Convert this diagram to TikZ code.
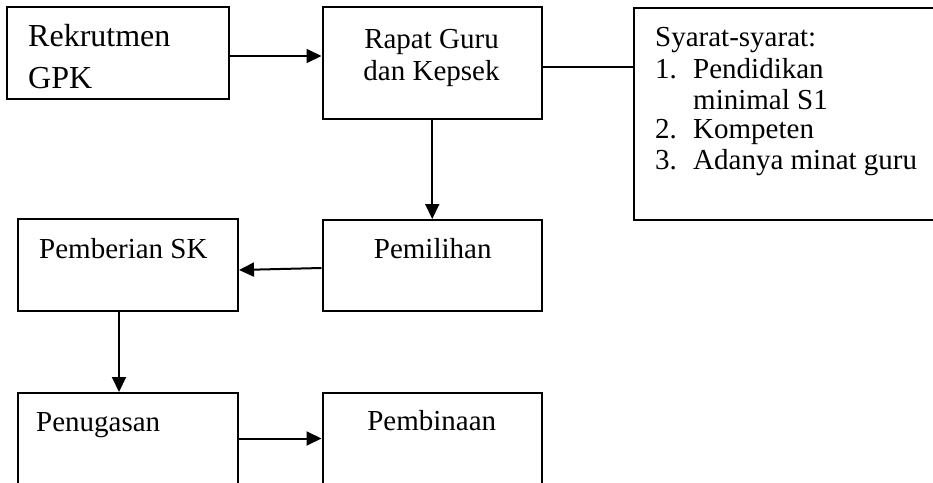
\documentclass[tikz,border=0pt]{standalone}
\usepackage{fontspec}
\setmainfont{Liberation Serif}
\usetikzlibrary{arrows.meta}
\begin{document}
\begin{tikzpicture}[x=1pt,y=-1pt,
  box/.style={draw=black,line width=2pt,rectangle,inner sep=0pt},
  txt/.style={inner sep=0pt,font=\fontsize{29}{31}\selectfont},
  bigtxt/.style={inner sep=0pt,font=\fontsize{32}{38}\selectfont},
  arr/.style={line width=2pt,-{Triangle[length=15pt,width=14pt]}},
  ln/.style={line width=2pt}]
\useasboundingbox (0,0) rectangle (933,482);
\clip (0,0) rectangle (933,482);
% boxes
\node[box,minimum width=222pt,minimum height=92pt] (b1) at (118,53) {};
\node[box,minimum width=219.5pt,minimum height=112pt] (b2) at (432.25,63) {};
\node[box,minimum width=326pt,minimum height=212pt] (b3) at (797,114) {};
\node[box,minimum width=219.5pt,minimum height=91pt] (b4) at (432.25,265.5) {};
\node[box,minimum width=220pt,minimum height=92pt] (b5) at (128,265) {};
\node[box,minimum width=220pt,minimum height=108pt] (b6) at (128,447) {};
\node[box,minimum width=219.5pt,minimum height=108pt] (b7) at (432.25,447) {};
% texts
\node[bigtxt,anchor=base west] (t1a) at (28,46.7) {Rekrutmen};
\node[bigtxt,anchor=base west] (t1b) at (28,88.3) {GPK};
\node[txt,anchor=base] (t2a) at (431.5,48.3) {Rapat Guru};
\node[txt,anchor=base] (t2b) at (431.5,80) {dan Kepsek};
\node[txt,anchor=base west] (t3a) at (655,46) {Syarat-syarat:};
\node[txt,anchor=base west] (t3b) at (655,78) {1.};
\node[txt,anchor=base west] (t3c) at (693,78) {Pendidikan};
\node[txt,anchor=base west] (t3d) at (693,109) {minimal S1};
\node[txt,anchor=base west] (t3e) at (655,138) {2.};
\node[txt,anchor=base west] (t3f) at (693,138) {Kompeten};
\node[txt,anchor=base west] (t3g) at (655,169) {3.};
\node[txt,anchor=base west] (t3h) at (693,169) {Adanya minat guru};
\node[txt,anchor=base] (t4) at (432.7,258) {Pemilihan};
\node[txt,anchor=base west] (t5) at (39,258) {Pemberian SK};
\node[txt,anchor=base west] (t6) at (36,431) {Penugasan};
\node[txt,anchor=base] (t7) at (431.7,430) {Pembinaan};
% connectors
\draw[arr] ([yshift=-3pt]b1.east) coordinate (s1) -- (s1 -| b2.west);
\draw[ln] ([yshift=-4pt]b2.east) coordinate (s2) -- (s2 -| b3.west);
\draw[arr] (b2.south) -- (b4.north);
\draw[arr] ([yshift=-2.5pt]b4.west) -- ([yshift=-5pt]b5.east);
\draw[arr] ([xshift=-9pt]b5.south) coordinate (s4) -- (s4 |- b6.north);
\draw[arr] ([yshift=8.5pt]b6.east) coordinate (s5) -- (s5 -| b7.west);
\end{tikzpicture}
\end{document}
